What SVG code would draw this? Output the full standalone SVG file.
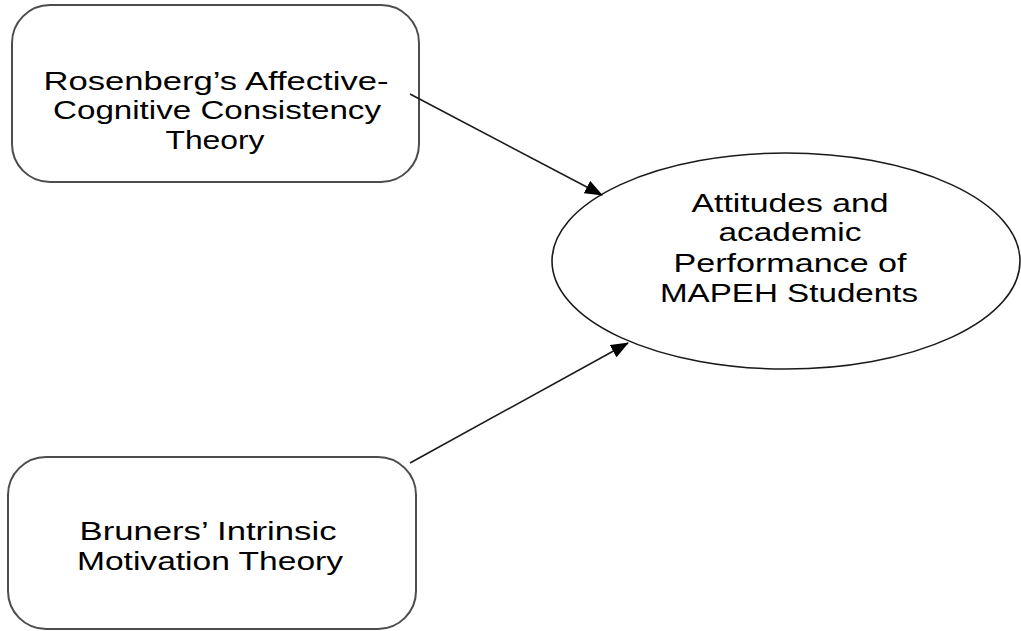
<svg xmlns="http://www.w3.org/2000/svg" width="1021" height="631" viewBox="0 0 1021 631">
  <style>
    .box { fill: #ffffff; stroke: #4d4d4d; stroke-width: 2; }
    .ell { fill: #ffffff; stroke: #1a1a1a; stroke-width: 1.6; }
    .lbl { font-family: "Liberation Sans", Arial, sans-serif; font-size: 25px; fill: #000000; text-anchor: middle; }
    .conn { stroke: #1a1a1a; stroke-width: 1.6; fill: none; marker-end: url(#arrow); }
  </style>
  <defs>
    <marker id="arrow" markerUnits="userSpaceOnUse" markerWidth="18" markerHeight="14" viewBox="0 0 18 14" refX="17" refY="7" orient="auto">
      <path d="M0,0 L18,7 L0,14 Z" fill="#000000"/>
    </marker>
  </defs>
  <rect width="1021" height="631" fill="#ffffff"/>
  <g id="node-rosenberg">
    <rect class="box" x="12" y="5" width="407" height="177" rx="38" ry="38"/>
    <text class="lbl" x="216" y="90" textLength="345" lengthAdjust="spacingAndGlyphs">Rosenberg’s Affective-</text>
    <text class="lbl" x="217" y="119" textLength="328" lengthAdjust="spacingAndGlyphs">Cognitive Consistency</text>
    <text class="lbl" x="215" y="149" textLength="99" lengthAdjust="spacingAndGlyphs">Theory</text>
  </g>
  <g id="node-bruner">
    <rect class="box" x="8" y="457" width="408" height="172" rx="38" ry="38"/>
    <text class="lbl" x="208" y="540" textLength="257" lengthAdjust="spacingAndGlyphs">Bruners’ Intrinsic</text>
    <text class="lbl" x="210" y="570" textLength="266" lengthAdjust="spacingAndGlyphs">Motivation Theory</text>
  </g>
  <g id="node-outcome">
    <ellipse class="ell" cx="786" cy="261" rx="234" ry="108"/>
    <text class="lbl" x="790" y="212" textLength="197" lengthAdjust="spacingAndGlyphs">Attitudes and</text>
    <text class="lbl" x="790" y="241" textLength="143" lengthAdjust="spacingAndGlyphs">academic</text>
    <text class="lbl" x="790" y="272" textLength="233" lengthAdjust="spacingAndGlyphs">Performance of</text>
    <text class="lbl" x="789" y="302" textLength="258" lengthAdjust="spacingAndGlyphs">MAPEH Students</text>
  </g>
  <g id="connectors">
    <line class="conn" x1="410" y1="94" x2="602" y2="195"/>
    <line class="conn" x1="410" y1="463" x2="628" y2="343"/>
  </g>
</svg>
